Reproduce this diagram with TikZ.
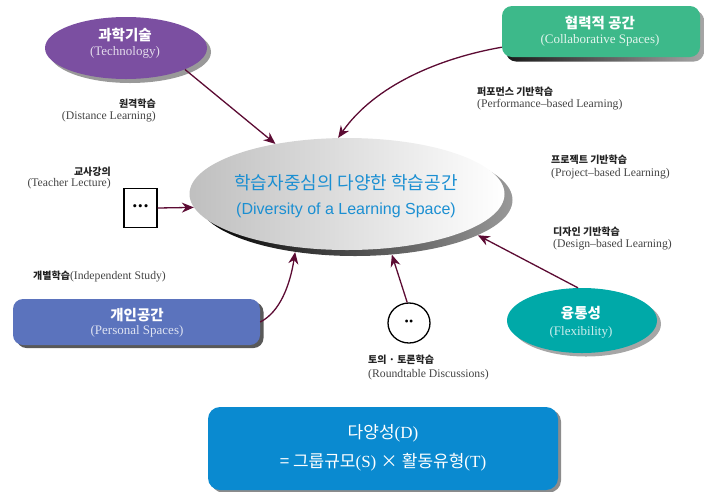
\documentclass[tikz,border=0pt]{standalone}
\usepackage{fontspec}
\setmainfont{Liberation Serif}
\newfontfamily\kr{Noto Sans CJK KR}
\newfontfamily\arial{Liberation Sans}
\usetikzlibrary{shapes.geometric,arrows.meta}
\definecolor{arrowc}{HTML}{5C0B33}
\definecolor{techc}{HTML}{7B4FA1}
\definecolor{collabc}{HTML}{3DB98A}
\definecolor{persc}{HTML}{5B73BD}
\definecolor{flexc}{HTML}{00A9A8}
\definecolor{bottomc}{HTML}{0A8AD0}
\definecolor{titlec}{HTML}{1B8FD2}
\definecolor{labk}{HTML}{222222}
\definecolor{labe}{HTML}{444444}
\tikzset{
  conn/.style={draw=arrowc, line width=1.3pt, -{Stealth[length=12pt,width=10pt]}},
  ell/.style={ellipse, inner sep=0pt, draw=none},
  rbox/.style={rectangle, rounded corners=10pt, inner sep=0pt, draw=none},
  krlab/.style={inner sep=0pt, text=labk, font=\kr\bfseries\fontsize{10}{12}\selectfont},
  enlab/.style={inner sep=0pt, text=labe, font=\fontsize{11.7}{13}\selectfont},
  krin/.style={inner sep=0pt, text=white, font=\kr\bfseries\fontsize{14.5}{16}\selectfont},
  enin/.style={inner sep=0pt, font=\fontsize{13}{15}\selectfont},
}
\begin{document}
\begin{tikzpicture}[x=1pt,y=-1pt]
\useasboundingbox (0,0) rectangle (704,491);

% ---- centre ellipse ----
\node[ell, minimum width=315pt, minimum height=112pt, left color=black, right color=black!40] (cshadow) at (355,200) {};
\node[ell, minimum width=315pt, minimum height=112pt, left color=black!25, middle color=black!7, right color=white] (center) at (347,194) {};
\node[inner sep=0pt, text=titlec, font=\kr\fontsize{18}{20}\selectfont] (ctitle) at (346,183) {학습자중심의 다양한 학습공간};
\node[inner sep=0pt, text=titlec, font=\arial\fontsize{16}{18}\selectfont] (csub) at (346,210) {(Diversity of a Learning Space)};

% ---- technology ----
\node[ell, minimum width=162pt, minimum height=62pt, fill=black!40] (techsh) at (130,52) {};
\node[ell, minimum width=162pt, minimum height=62pt, fill=techc] (tech) at (126,48) {};
\node[krin] (techk) at (125,35) {과학기술};
\node[enin, text=white!80!techc] (teche) at (125,52) {(Technology)};

% ---- collaborative ----
\node[rbox, minimum width=198pt, minimum height=51pt, left color=black!90, right color=black!35] (collabsh) at (605,36) {};
\node[rbox, minimum width=198pt, minimum height=51pt, fill=collabc] (collab) at (601,31.5) {};
\node[krin] (collabk) at (600,23) {협력적 공간};
\node[enin, text=white!85!collabc] (collabe) at (600,40) {(Collaborative Spaces)};

% ---- personal ----
\node[rbox, minimum width=247pt, minimum height=46pt, fill=black!65] (perssh) at (140,325) {};
\node[rbox, minimum width=247pt, minimum height=46pt, fill=persc] (pers) at (136.5,322) {};
\node[krin] (persk) at (137,315) {개인공간};
\node[enin, text=white!80!persc] (perse) at (137,331) {(Personal Spaces)};

% ---- flexibility ----
\node[ell, minimum width=150pt, minimum height=65pt, fill=black!35] (flexsh) at (586,324) {};
\node[ell, minimum width=150pt, minimum height=65pt, fill=flexc] (flex) at (582,320.5) {};
\node[krin] (flexk) at (581,313) {융통성};
\node[enin, text=white!80!flexc] (flexe) at (581,332) {(Flexibility)};

% ---- bottom formula box ----
\node[rbox, rounded corners=12pt, minimum width=350pt, minimum height=83pt, fill=black!45] (botsh) at (386,451) {};
\node[rbox, rounded corners=12pt, minimum width=350pt, minimum height=83pt, fill=bottomc] (bot) at (383,448.5) {};
\node[inner sep=0pt, text=white, font=\fontsize{17}{19}\selectfont] (botl1) at (383,433) {{\kr 다양성}(D)};
\node[inner sep=0pt, text=white, font=\fontsize{17}{19}\selectfont] (botl2) at (383,462) {{\kr = 그룹규모}(S) {\kr ×} {\kr 활동유형}(T)};

% ---- teacher lecture box ----
\node[rectangle, draw=black, line width=1.3pt, fill=white, minimum width=33pt, minimum height=39pt, inner sep=0pt, font=\fontsize{13}{13}\selectfont] (dots) at (140.5,208) {\textbullet\hspace{1pt}\textbullet\hspace{1pt}\textbullet};

% ---- roundtable ----
\node[ell, draw=black, line width=1.3pt, fill=white, minimum width=42pt, minimum height=40pt, font=\fontsize{12}{12}\selectfont] (rt) at (409,323) {\textbullet\hspace{0.5pt}\textbullet};

% ---- labels ----
\node[krlab, anchor=east] (l1k) at (156,104) {원격학습};
\node[enlab, anchor=east] (l1e) at (156,117) {(Distance Learning)};
\node[krlab, anchor=east] (l2k) at (111,172) {교사강의};
\node[enlab, anchor=east] (l2e) at (111,184) {(Teacher Lecture)};
\node[anchor=west, inner sep=0pt] (l3) at (33,277) {{\kr\bfseries\fontsize{10}{12}\selectfont\color{labk}개별학습}{\fontsize{11.7}{13}\selectfont\color{labe}(Independent Study)}};
\node[krlab, anchor=west] (l4k) at (368,360) {토의 · 토론학습};
\node[enlab, anchor=west] (l4e) at (368,375) {(Roundtable Discussions)};
\node[krlab, anchor=west] (l5k) at (477,92) {퍼포먼스 기반학습};
\node[enlab, anchor=west] (l5e) at (477,105) {(Performance–based Learning)};
\node[krlab, anchor=west] (l6k) at (551,160) {프로젝트 기반학습};
\node[enlab, anchor=west] (l6e) at (551,174) {(Project–based Learning)};
\node[krlab, anchor=west] (l7k) at (553,232) {디자인 기반학습};
\node[enlab, anchor=west] (l7e) at (553,245) {(Design–based Learning)};

% ---- connectors ----
\draw[conn] (tech.-20) -- (center.145);
\draw[conn] (collab.189) .. controls (440,58) and (375,85) .. (center.99);
\draw[conn] (dots.east) -- (center.185);
\draw[conn] (pers.east) .. controls (280,312) and (290,285) .. (cshadow.221);
\draw[conn] (rt.95) -- (cshadow.304);
\draw[conn] (flex.97) -- (cshadow.344);
\end{tikzpicture}
\end{document}
